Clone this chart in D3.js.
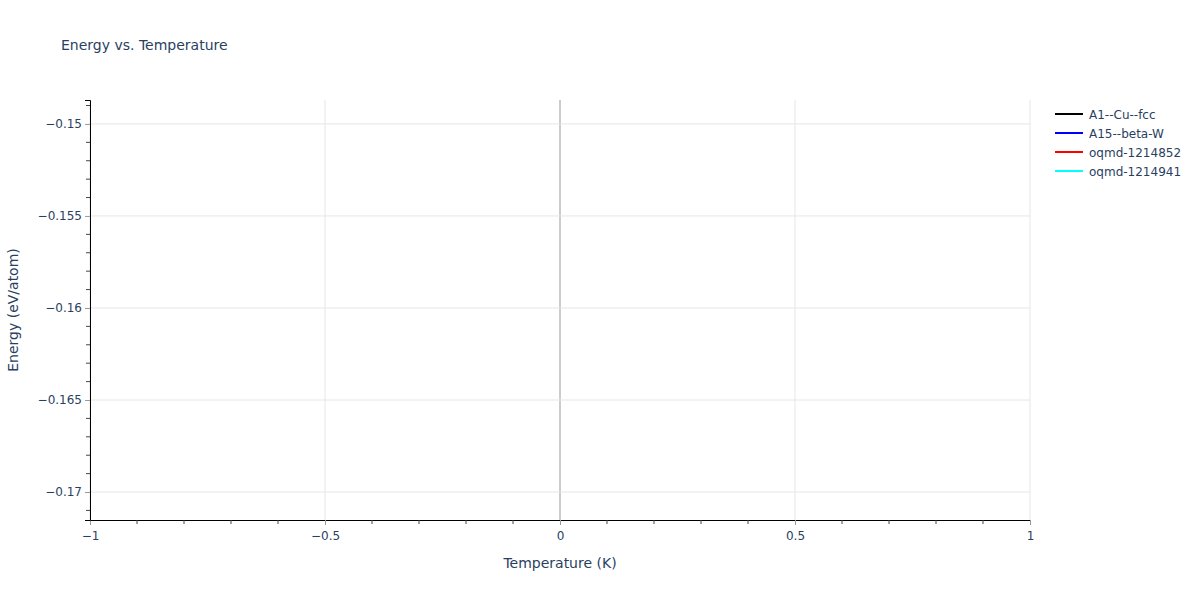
<!DOCTYPE html>
<html>
<head>
<meta charset="utf-8">
<script src="https://cdn.jsdelivr.net/npm/d3@7"></script>
<style>
  body { margin: 0; background: #fff; }
  text { font-family: Verdana, "DejaVu Sans", sans-serif; fill: #2a3f5f; }
</style>
</head>
<body>
<div id="container"></div>
<script>
/* DATA */
const seriesNames = ["A1--Cu--fcc", "A15--beta-W", "oqmd-1214852", "oqmd-1214941"];
// no points were plotted in the reference, every series is empty
const seriesTemps = [[], [], [], []];
const seriesEnergy = [[], [], [], []];
const xTickValues = [-1, -0.5, 0, 0.5, 1];
const yTickValues = [-0.15, -0.155, -0.16, -0.165, -0.17];
const xDomain = [-1, 1];
const yDomain = [-0.17152, -0.1487];

/* CONSTANTS */
const width = 1200, height = 600;
const margin = {top: 100, right: 170, bottom: 80, left: 90};
const lineColors = ["#000000", "#0000ff", "#ff0000", "#00ffff"];

const svg = d3.select("#container").append("svg")
  .attr("width", width)
  .attr("height", height);

const xScale = d3.scaleLinear().domain(xDomain).range([margin.left, width - margin.right]);
const yScale = d3.scaleLinear().domain(yDomain).range([height - margin.bottom, margin.top]);

const fmt = v => v === 0 ? "0" : (v < 0 ? "\u2212" + d3.format("")(Math.abs(v)) : String(v));

// gridlines
svg.append("g").selectAll("line")
  .data(xTickValues)
  .join("line")
  .attr("x1", d => xScale(d)).attr("x2", d => xScale(d))
  .attr("y1", margin.top).attr("y2", height - margin.bottom)
  .attr("stroke", d => d === 0 ? "#cccccc" : "#e6e6e6")
  .attr("stroke-width", d => d === 0 ? 2 : 1);

svg.append("g").selectAll("line")
  .data(yTickValues)
  .join("line")
  .attr("x1", margin.left).attr("x2", width - margin.right)
  .attr("y1", d => yScale(d)).attr("y2", d => yScale(d))
  .attr("stroke", "#e6e6e6");

// minor ticks
const xMinor = d3.range(-10, 11).map(i => i / 10).filter(v => !xTickValues.includes(v));
const yMinor = d3.range(-171, -148).map(i => i / 1000).filter(v => !yTickValues.some(t => Math.abs(t - v) < 1e-9));

const xAxis = d3.axisBottom(xScale).tickValues(xTickValues).tickFormat(fmt).tickSize(5).tickPadding(6);
const yAxis = d3.axisLeft(yScale).tickValues(yTickValues).tickFormat(fmt).tickSize(5).tickPadding(3);

const xg = svg.append("g")
  .attr("transform", `translate(0,${height - margin.bottom})`)
  .call(xAxis);
xg.append("g").selectAll("line")
  .data(xMinor).join("line")
  .attr("x1", d => xScale(d)).attr("x2", d => xScale(d))
  .attr("y1", 0).attr("y2", 4)
  .attr("stroke", "#444");

const yg = svg.append("g")
  .attr("transform", `translate(${margin.left},0)`)
  .call(yAxis);
yg.append("g").selectAll("line")
  .data(yMinor).join("line")
  .attr("y1", d => yScale(d)).attr("y2", d => yScale(d))
  .attr("x1", 0).attr("x2", -4)
  .attr("stroke", "#444");

[xg, yg].forEach(g => {
  g.select(".domain").attr("stroke", "#000").attr("stroke-width", 1);
  g.selectAll(".tick line").attr("stroke", "#999");
  g.selectAll(".tick text").style("font-size", "12px").attr("fill", "#2a3f5f")
    .style("font-family", 'Verdana, "DejaVu Sans", sans-serif');
});

// series lines (empty)
const line = d3.line().x(d => xScale(d[0])).y(d => yScale(d[1]));
svg.append("g").selectAll("path")
  .data(seriesNames.map((n, i) => d3.zip(seriesTemps[i], seriesEnergy[i])))
  .join("path")
  .attr("d", d => d.length ? line(d) : null)
  .attr("fill", "none")
  .attr("stroke", (d, i) => lineColors[i])
  .attr("stroke-width", 2);

// titles
svg.append("text")
  .attr("x", 61).attr("y", 50)
  .style("font-size", "14px")
  .text("Energy vs. Temperature");

svg.append("text")
  .attr("x", (margin.left + width - margin.right) / 2).attr("y", 568)
  .attr("text-anchor", "middle")
  .style("font-size", "14px")
  .text("Temperature (K)");

svg.append("text")
  .attr("transform", `translate(18,${(margin.top + height - margin.bottom) / 2}) rotate(-90)`)
  .attr("text-anchor", "middle")
  .style("font-size", "14px")
  .text("Energy (eV/atom)");

// legend
const legend = svg.append("g").attr("transform", "translate(1055,114)");
const item = legend.selectAll("g")
  .data(seriesNames)
  .join("g")
  .attr("transform", (d, i) => `translate(0,${i * 19})`);
item.append("line")
  .attr("x1", 0).attr("x2", 28)
  .attr("stroke", (d, i) => lineColors[i])
  .attr("stroke-width", 2);
item.append("text")
  .attr("x", 34).attr("y", 4.5)
  .style("font-size", "12px")
  .text(d => d);
</script>
</body>
</html>
